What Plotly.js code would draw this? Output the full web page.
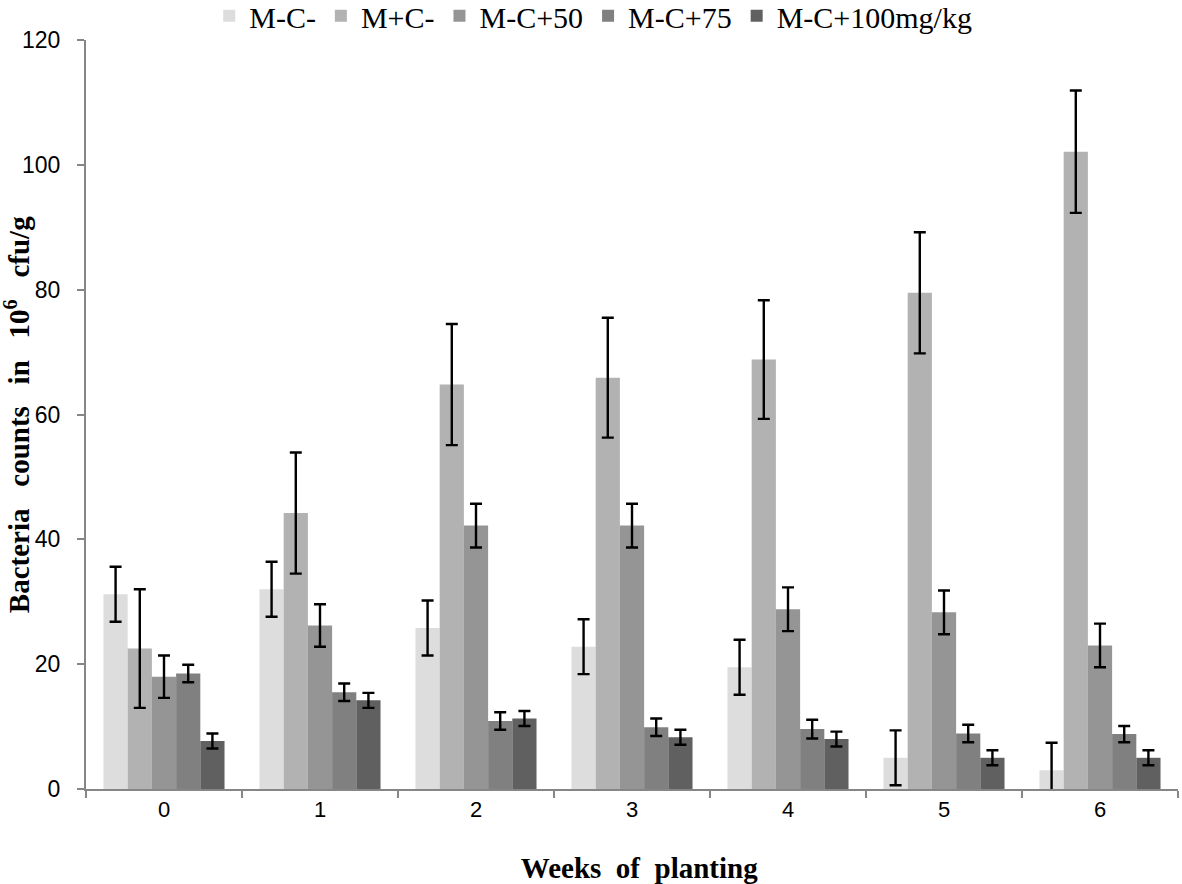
<!DOCTYPE html>
<html>
<head>
<meta charset="utf-8">
<script src="https://cdn.plot.ly/plotly-3.0.1.min.js"></script>
<style>html,body{margin:0;padding:0;background:#fff;}#chart{width:1182px;height:884px;}</style>
</head>
<body>
<div id="chart"></div>
<script>
const weeks = ["0", "1", "2", "3", "4", "5", "6"];
const seriesNames = ["M-C-", "M+C-", "M-C+50", "M-C+75", "M-C+100mg/kg"];
const mcMinus    = [31.2, 32.0, 25.8, 22.8, 19.5, 5.0, 3.0];
const mcPlus     = [22.5, 44.2, 64.8, 65.9, 68.8, 79.5, 102.1];
const mc50       = [18.0, 26.2, 42.2, 42.2, 28.8, 28.3, 23.0];
const mc75       = [18.5, 15.5, 10.9, 9.9, 9.6, 8.9, 8.8];
const mc100      = [7.7, 14.2, 11.3, 8.3, 8.0, 5.0, 5.0];
const errMcMinus = [4.4, 4.4, 4.4, 4.4, 4.4, 4.4, 4.4];
const errMcPlus  = [9.5, 9.7, 9.7, 9.6, 9.5, 9.7, 9.8];
const err50      = [3.4, 3.4, 3.5, 3.5, 3.5, 3.5, 3.5];
const err75      = [1.4, 1.4, 1.4, 1.4, 1.5, 1.4, 1.3];
const err100     = [1.2, 1.2, 1.2, 1.2, 1.2, 1.2, 1.2];
const yTitle = "Bacteria   counts   in   10<sup>6</sup>   cfu/g";
const xTitle = "&nbsp;&nbsp;Weeks  of  planting";

const values = [mcMinus, mcPlus, mc50, mc75, mc100];
const errors = [errMcMinus, errMcPlus, err50, err75, err100];
const colors = ["#dddddd", "#b2b2b2", "#959595", "#808080", "#606060"];

const traces = seriesNames.map((name, i) => ({
  type: "bar",
  name: name,
  x: weeks,
  y: values[i],
  marker: {color: colors[i], line: {width: 0}},
  error_y: {type: "data", array: errors[i], visible: true, color: "#000000", thickness: 2.4, width: 6}
}));

const layout = {
  width: 1182,
  height: 884,
  paper_bgcolor: "#ffffff",
  plot_bgcolor: "#ffffff",
  margin: {l: 86, r: 4, t: 40, b: 95, autoexpand: false},
  barmode: "group",
  bargap: 0.224,
  bargroupgap: 0,
  showlegend: true,
  legend: {
    orientation: "h",
    xref: "container", yref: "paper",
    x: 0.177, xanchor: "left",
    y: 1.067, yanchor: "top",
    font: {family: "Liberation Serif, Times New Roman, serif", size: 30, color: "#000"},
    itemwidth: 30,
    traceorder: "normal"
  },
  xaxis: {
    type: "category",
    showline: true,
    linecolor: "#868686",
    linewidth: 2,
    ticks: "outside",
    tickson: "boundaries",
    ticklen: 7,
    tickcolor: "#868686",
    tickwidth: 2,
    showgrid: false,
    tickfont: {family: "Liberation Sans, Arial, sans-serif", size: 22, color: "#000"},
    title: {text: xTitle, font: {family: "Liberation Serif, Times New Roman, serif", size: 29, color: "#000", weight: "bold"}}
  },
  yaxis: {
    range: [0, 120],
    dtick: 20,
    showline: true,
    linecolor: "#868686",
    linewidth: 2,
    ticks: "outside",
    ticklen: 7,
    tickcolor: "#868686",
    tickwidth: 2,
    showgrid: false,
    zeroline: false,
    ticklabelstandoff: 12,
    tickfont: {family: "Liberation Sans, Arial, sans-serif", size: 23, color: "#000"},
    title: {text: ""}
  },
  annotations: [{
    text: yTitle,
    xref: "paper", yref: "paper",
    x: -0.0635, y: 0.5,
    xanchor: "center", yanchor: "middle",
    textangle: -90,
    showarrow: false,
    font: {family: "Liberation Serif, Times New Roman, serif", size: 29, color: "#000", weight: "bold"}
  }]
};

Plotly.newPlot("chart", traces, layout, {displayModeBar: false, staticPlot: true});
</script>
</body>
</html>
